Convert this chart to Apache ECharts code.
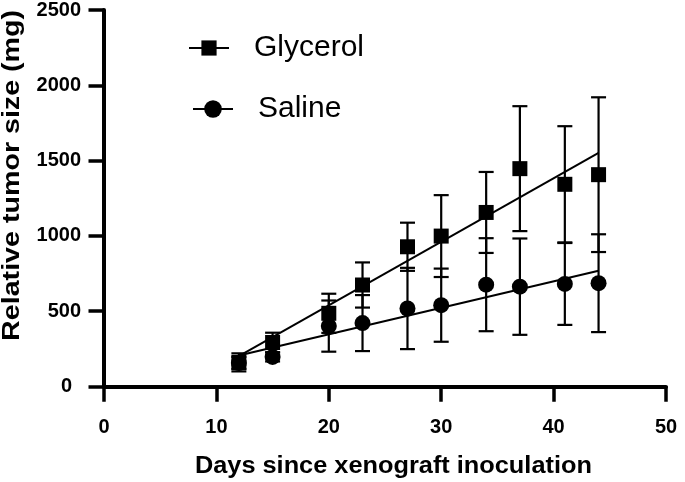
<!DOCTYPE html>
<html>
<head>
<meta charset="utf-8">
<script src="https://cdn.jsdelivr.net/npm/echarts@6/dist/echarts.min.js"></script>
<style>
html,body{margin:0;padding:0;background:#fff;}
#chart{width:685px;height:482px;}
</style>
</head>
<body>
<div id="chart"></div>
<script>
// Data
var days = [12, 15, 20, 23, 27, 30, 34, 37, 41, 44];
var glycerolMean = [159, 291, 485, 673, 927, 998, 1155, 1446, 1342, 1406];
var glycerolSD   = [60, 65, 130, 150, 160, 272, 269, 415, 386, 514];
var salineMean   = [155, 195, 400, 420, 517, 539, 675, 662, 680, 685];
var salineSD     = [40, 30, 170, 186, 270, 243, 309, 320, 272, 325];
// Fitted line endpoints
var glycerolFitX = [12, 44];
var glycerolFitY = [200, 1550];
var salineFitX = [12, 44];
var salineFitY = [205, 768];
var xTicks = [0, 10, 20, 30, 40, 50];
var yTicks = [0, 500, 1000, 1500, 2000, 2500];
var xTitle = 'Days since xenograft inoculation';
var yTitle = 'Relative tumor size (mg)';

function pts(xs, ys) { return xs.map(function (x, i) { return [x, ys[i]]; }); }
function errs(xs, m, s) { return xs.map(function (x, i) { return [x, m[i] - s[i], m[i] + s[i]]; }); }

var FONT = '"Liberation Sans", Arial, sans-serif';

function measure(text, font) {
  var c = document.createElement('canvas').getContext('2d');
  c.font = font;
  return c.measureText(text).width;
}
var xTitleFont = 'bold 23px ' + FONT;
var yTitleFont = 'bold 24px ' + FONT;
var xTitleScale = 397 / measure(xTitle, xTitleFont);
var yTitleScale = 331 / measure(yTitle, yTitleFont);

function errorRender(params, api) {
  var x = api.value(0);
  var lo = api.coord([x, api.value(1)]);
  var hi = api.coord([x, api.value(2)]);
  var hw = 7.5;
  var style = { stroke: '#000', lineWidth: 2.2, fill: null };
  return {
    type: 'group',
    children: [
      { type: 'line', shape: { x1: lo[0], y1: lo[1], x2: hi[0], y2: hi[1] }, style: style },
      { type: 'line', shape: { x1: lo[0] - hw, y1: lo[1], x2: lo[0] + hw, y2: lo[1] }, style: style },
      { type: 'line', shape: { x1: hi[0] - hw, y1: hi[1], x2: hi[0] + hw, y2: hi[1] }, style: style }
    ]
  };
}

var chart = echarts.init(document.getElementById('chart'), null, { renderer: 'canvas' });
chart.setOption({
  animation: false,
  backgroundColor: '#fff',
  grid: { left: 104, right: 19, top: 9.5, bottom: 95.7, containLabel: false },
  legend: [
    {
      data: ['Glycerol'], left: 183, top: 28, itemWidth: 40, itemHeight: 19, itemGap: 0,
      textStyle: { fontFamily: FONT, fontSize: 30, color: '#000', padding: [0, 0, 0, 20] },
      lineStyle: { opacity: 1, width: 2, color: '#000' }, selectedMode: false
    },
    {
      data: ['Saline'], left: 187, top: 89, itemWidth: 40, itemHeight: 22, itemGap: 0,
      textStyle: { fontFamily: FONT, fontSize: 30, color: '#000', padding: [0, 0, 0, 20] },
      lineStyle: { opacity: 1, width: 2, color: '#000' }, selectedMode: false
    }
  ],
  graphic: [
    {
      type: 'text', x: 393.4, y: 466.7, scaleX: xTitleScale, silent: true,
      style: { text: xTitle, font: xTitleFont, fill: '#000', align: 'center', verticalAlign: 'middle' }
    },
    {
      type: 'text', x: 12.5, y: 175.4, rotation: Math.PI / 2, scaleX: yTitleScale, silent: true,
      style: { text: yTitle, font: yTitleFont, fill: '#000', align: 'center', verticalAlign: 'middle' }
    }
  ],
  xAxis: {
    type: 'value', min: xTicks[0], max: xTicks[xTicks.length - 1], interval: 10,
    axisLine: { show: true, onZero: false, lineStyle: { color: '#000', width: 4 } },
    axisTick: { show: true, length: 15.5, lineStyle: { color: '#000', width: 3.5 } },
    axisLabel: { margin: 31, fontFamily: FONT, fontSize: 20, fontWeight: 'bold', color: '#000' },
    splitLine: { show: false }
  },
  yAxis: {
    type: 'value', min: yTicks[0], max: yTicks[yTicks.length - 1], interval: 500,
    axisLine: { show: true, onZero: false, lineStyle: { color: '#000', width: 4 } },
    axisTick: { show: true, length: 15.5, lineStyle: { color: '#000', width: 3.5 } },
    axisLabel: {
      margin: 23, fontFamily: FONT, fontSize: 20, fontWeight: 'bold', color: '#000',
      formatter: function (v) { return v === 0 ? '{z|0}' : String(v); },
      rich: { z: { fontFamily: FONT, fontSize: 20, fontWeight: 'bold', color: '#000', padding: [0, 9, 0, 0] } }
    },
    splitLine: { show: false }
  },
  series: [
    {
      name: 'GlycerolFit', type: 'line', data: pts(glycerolFitX, glycerolFitY), showSymbol: false,
      lineStyle: { color: '#000', width: 2 }, silent: true, z: 2
    },
    {
      name: 'SalineFit', type: 'line', data: pts(salineFitX, salineFitY), showSymbol: false,
      lineStyle: { color: '#000', width: 2 }, silent: true, z: 2
    },
    {
      name: 'GlycerolErr', type: 'custom', data: errs(days, glycerolMean, glycerolSD),
      renderItem: errorRender, encode: { x: 0, y: [1, 2] }, z: 3, silent: true
    },
    {
      name: 'SalineErr', type: 'custom', data: errs(days, salineMean, salineSD),
      renderItem: errorRender, encode: { x: 0, y: [1, 2] }, z: 3, silent: true
    },
    {
      name: 'Glycerol', type: 'line', data: pts(days, glycerolMean), symbol: 'rect', symbolSize: 15,
      showSymbol: true, lineStyle: { opacity: 0 }, itemStyle: { color: '#000' }, z: 5
    },
    {
      name: 'Saline', type: 'line', data: pts(days, salineMean), symbol: 'circle', symbolSize: 16,
      showSymbol: true, lineStyle: { opacity: 0 }, itemStyle: { color: '#000' }, z: 5
    }
  ]
});
</script>
</body>
</html>
